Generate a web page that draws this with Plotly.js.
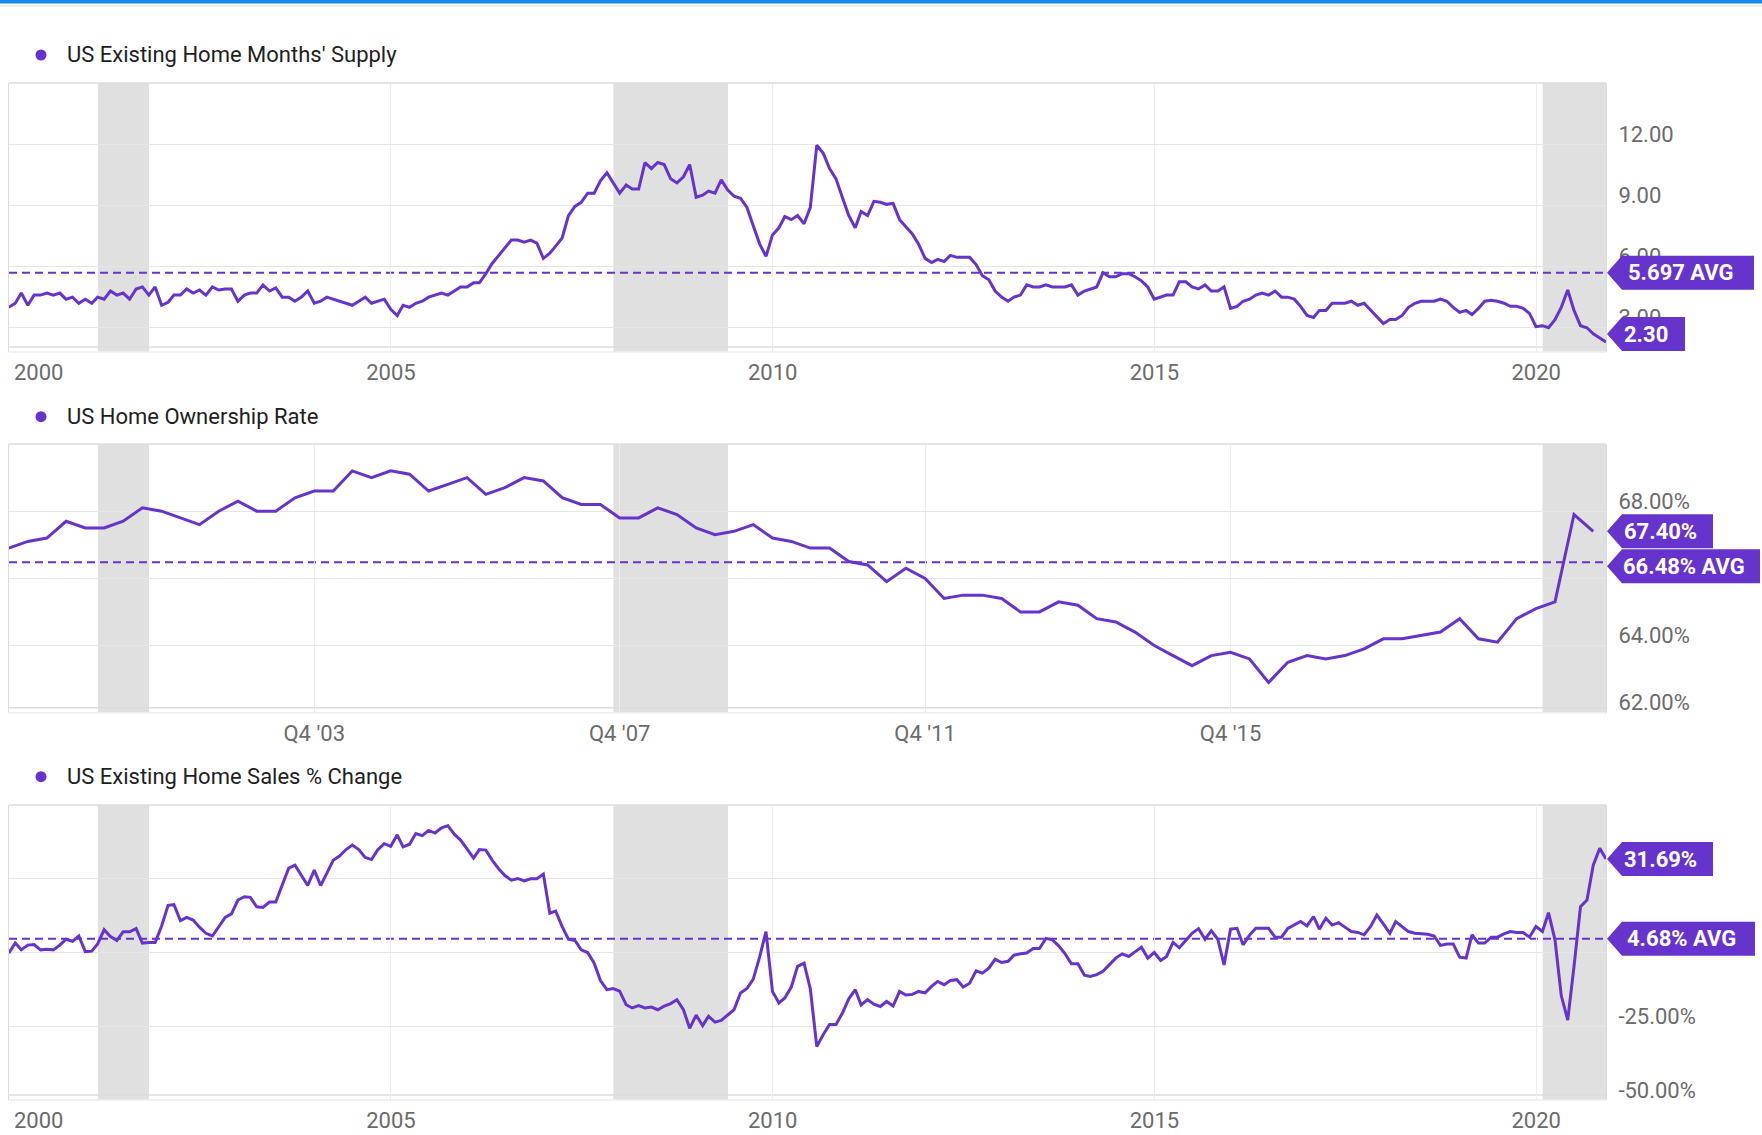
<!DOCTYPE html>
<html>
<head>
<meta charset="utf-8">
<script src="https://cdn.plot.ly/plotly-3.0.1.min.js"></script>
<style>
  html, body { margin: 0; padding: 0; background: #ffffff; }
  #chart { width: 1762px; height: 1135px; }
</style>
</head>
<body>
<div id="chart"></div>
<script>
// ---------------- DATA ----------------
// Monthly series start with the month ending 1999-12-31; quarterly with Q4 1999.
const monthlyStart = [1999, 12];
const quarterlyStart = [1999, 12];

// US Existing Home Months' Supply (monthly, Dec 1999 .. Nov 2020)
const supplyValues = [
  4.0, 4.2, 4.7, 4.1, 4.6, 4.6, 4.7, 4.6, 4.7, 4.4, 4.5, 4.2,
  4.4, 4.2, 4.5, 4.4, 4.8, 4.6, 4.7, 4.4, 4.9, 5.0, 4.6, 5.0,
  4.1, 4.25, 4.6, 4.6, 4.9, 4.7, 4.85, 4.6, 5.0, 4.85, 4.9, 4.9,
  4.3, 4.6, 4.7, 4.7, 5.1, 4.8, 4.95, 4.5, 4.5, 4.3, 4.5, 4.8,
  4.2, 4.3, 4.5, 4.4, 4.3, 4.2, 4.1, 4.3, 4.5, 4.2, 4.3, 4.4,
  3.9, 3.6, 4.1, 4.0, 4.2, 4.3, 4.5, 4.6, 4.7, 4.6, 4.8, 5.0,
  5.0, 5.2, 5.2, 5.65, 6.15, 6.55, 6.95, 7.3, 7.3, 7.2, 7.3, 7.15,
  6.4, 6.65, 7.0, 7.4, 8.5, 8.95, 9.15, 9.6, 9.6, 10.2, 10.6, 10.1,
  9.6, 10.0, 9.8, 9.8, 11.1, 10.8, 11.1, 11.0, 10.3, 10.1, 10.4, 11.0,
  9.4, 9.5, 9.7, 9.6, 10.25, 9.75, 9.45, 9.35, 8.9, 8.0, 7.1, 6.5,
  7.55, 7.9, 8.45, 8.3, 8.5, 8.1, 8.9, 11.95, 11.55, 10.8, 10.3, 9.4,
  8.5, 7.9, 8.7, 8.5, 9.2, 9.15, 9.05, 9.1, 8.3, 7.95, 7.6, 7.1,
  6.4, 6.2, 6.35, 6.25, 6.55, 6.45, 6.45, 6.45, 6.1, 5.55, 5.35, 4.8,
  4.5, 4.3, 4.5, 4.6, 5.1, 5.0, 5.0, 5.1, 5.0, 5.0, 5.0, 5.1,
  4.6, 4.8, 4.9, 5.0, 5.7, 5.5, 5.5, 5.65, 5.65, 5.5, 5.3, 5.0,
  4.4, 4.5, 4.6, 4.6, 5.25, 5.25, 5.0, 4.9, 5.1, 4.8, 4.8, 5.0,
  3.95, 4.05, 4.3, 4.4, 4.6, 4.7, 4.6, 4.8, 4.5, 4.5, 4.4, 4.05,
  3.6, 3.5, 3.85, 3.85, 4.2, 4.2, 4.2, 4.3, 4.1, 4.2, 3.85, 3.5,
  3.2, 3.4, 3.4, 3.6, 4.0, 4.2, 4.3, 4.3, 4.3, 4.4, 4.3, 4.0,
  3.75, 3.85, 3.65, 3.95, 4.3, 4.35, 4.3, 4.2, 4.05, 4.05, 3.95, 3.7,
  3.05, 3.1, 3.0, 3.4, 4.0, 4.85, 3.85, 3.1, 3.0, 2.7, 2.5, 2.3
];

// US Home Ownership Rate (quarterly, Q4 1999 .. Q3 2020)
const ownershipValues = [
  66.9,
  67.1, 67.2, 67.7, 67.5,
  67.5, 67.7, 68.1, 68.0,
  67.8, 67.6, 68.0, 68.3,
  68.0, 68.0, 68.4, 68.6,
  68.6, 69.2, 69.0, 69.2,
  69.1, 68.6, 68.8, 69.0,
  68.5, 68.7, 69.0, 68.9,
  68.4, 68.2, 68.2, 67.8,
  67.8, 68.1, 67.9, 67.5,
  67.3, 67.4, 67.6, 67.2,
  67.1, 66.9, 66.9, 66.5,
  66.4, 65.9, 66.3, 66.0,
  65.4, 65.5, 65.5, 65.4,
  65.0, 65.0, 65.3, 65.2,
  64.8, 64.7, 64.4, 64.0,
  63.7, 63.4, 63.7, 63.8,
  63.6, 62.9, 63.5, 63.7,
  63.6, 63.7, 63.9, 64.2,
  64.2, 64.3, 64.4, 64.8,
  64.2, 64.1, 64.8, 65.1,
  65.3, 67.9, 67.4
];

// US Existing Home Sales % Change (monthly, Dec 1999 .. Nov 2020)
const salesChangeValues = [
  -0.2, 3.2, 0.9, 2.5, 2.7, 0.9, 1.1, 0.9, 2.5, 4.5, 3.8, 5.6,
  0.3, 0.45, 2.9, 7.7, 5.4, 4.1, 7.0, 7.0, 8.1, 3.2, 3.4, 3.4,
  9.0, 16.0, 16.2, 10.8, 11.9, 11.0, 8.6, 6.5, 5.6, 8.8, 11.9, 13.1,
  17.8, 18.9, 18.7, 15.5, 15.3, 17.1, 17.1, 22.9, 28.6, 29.6, 26.1, 22.7,
  27.9, 22.7, 26.8, 31.3, 32.7, 34.9, 36.4, 34.9, 32.2, 31.5, 34.9, 36.9,
  36.0, 39.9, 35.8, 36.7, 40.3, 39.6, 41.4, 40.5, 42.3, 43.0, 40.1, 38.1,
  35.1, 32.0, 34.9, 34.7, 31.3, 28.4, 26.1, 24.5, 25.1, 24.3, 25.0, 25.0,
  26.6, 13.3, 14.0, 8.8, 4.5, 4.1, 0.9, 0.0, -3.6, -9.5, -12.6, -12.2,
  -13.1, -17.7, -18.8, -18.0, -18.8, -18.5, -19.4, -18.2, -17.3, -16.0, -19.4, -25.7,
  -21.2, -24.8, -21.6, -23.6, -23.0, -21.2, -19.4, -13.7, -12.2, -9.0, -1.4, 7.1,
  -13.2, -17.1, -15.4, -11.7, -4.7, -3.6, -12.3, -31.9, -27.8, -24.4, -24.4, -20.6,
  -15.7, -12.6, -17.8, -16.0, -17.5, -18.3, -16.6, -18.1, -13.2, -14.4, -14.2, -13.2,
  -13.7, -11.5, -9.8, -10.9, -9.5, -9.2, -11.7, -10.4, -6.2, -7.0, -5.3, -2.3,
  -3.4, -3.0, -0.9, -0.45, -0.2, 1.35, 1.35, 4.8, 4.3, 2.25, -0.45, -3.8,
  -3.8, -7.7, -8.1, -7.5, -6.4, -4.1, -1.9, -0.45, -1.35, 0.2, 1.8, -1.9,
  0.0, -2.7, -1.35, 3.4, 1.6, 4.05, 6.5, 8.1, 4.5, 7.4, 4.5, -4.2,
  7.9, 8.2, 2.6, 5.9, 8.2, 8.2, 8.2, 5.2, 5.2, 8.2, 9.3, 10.5,
  9.0, 12.2, 7.9, 11.6, 9.3, 10.1, 8.6, 7.1, 6.8, 6.0, 8.8, 12.7,
  9.7, 6.5, 10.5, 8.6, 7.1, 6.5, 6.3, 6.2, 5.6, 2.4, 2.9, 2.9,
  -1.6, -1.9, 6.0, 3.2, 3.2, 5.2, 5.2, 6.3, 7.1, 6.8, 6.8, 5.2,
  8.8, 7.1, 13.5, 4.3, -14.6, -22.9, -4.7, 15.5, 17.8, 29.6, 35.3, 31.69
];

const supplyAvg = 5.697;
const ownershipAvg = 66.48;
const salesAvg = 4.68;

const seriesTitles = ["US Existing Home Months' Supply", "US Home Ownership Rate", "US Existing Home Sales % Change"];

const recessionStarts = ["2001-03-01", "2007-12-01", "2020-02-01"];
const recessionEnds   = ["2001-11-01", "2009-06-01", "2020-11-30"];

const xRange = ["2000-01-01", "2020-11-30"];
const yearTickVals = ["2005-01-01", "2010-01-01", "2015-01-01", "2020-01-01"];
const yearTickText = ["2005", "2010", "2015", "2020"];
const firstYearLabel = "2000";
const quarterTickVals = ["2003-12-31", "2007-12-31", "2011-12-31", "2015-12-31"];
const quarterTickText = ["Q4 '03", "Q4 '07", "Q4 '11", "Q4 '15"];

// gridline values; labels that sit fully under a value tag are left blank (as in the source)
const supplyTicks = [3, 6, 9, 12];
const ownershipTicks = [62, 64, 66, 68];
const ownershipHiddenLabels = [66];
const salesTicks = [-50, -25, 0, 25];
const salesHiddenLabels = [0, 25];

const supplyRange = [1.81, 15];
const ownershipRange = [62, 70];
const salesRange = [-50, 50];

// ---------------- LAYOUT HELPERS ----------------
const W = 1762, H = 1135, ML = 9, MR = 156, MT = 83, MB = 35;
const PW = W - ML - MR, PH = H - MT - MB;
const panelPx = [[83, 352], [444, 712.7], [805, 1100]];
const dom = p => [(H - MB - p[1]) / PH, (H - MB - p[0]) / PH];
const xp = px => (px - ML) / PW;
const yp = py => (H - MB - py) / PH;

const PURPLE = "#6633cc";
const FONT = "Roboto, 'Open Sans', sans-serif";
const tickFont = { family: FONT, size: 22, color: "#6b6b6b" };

function periodEnds(start, n, step) {
  const out = [];
  for (let i = 0; i < n; i++) {
    const d = new Date(Date.UTC(start[0], start[1] + i * step, 0));
    out.push(d.toISOString().slice(0, 10));
  }
  return out;
}
const supplyDates = periodEnds(monthlyStart, supplyValues.length, 1);
const salesDates = periodEnds(monthlyStart, salesChangeValues.length, 1);
const ownershipDates = periodEnds(quarterlyStart, ownershipValues.length, 3);

// ---------------- TRACES ----------------
const lineStyle = { color: PURPLE, width: 3 };
const traces = [
  { x: supplyDates, y: supplyValues, xaxis: "x", yaxis: "y", type: "scatter", mode: "lines", line: lineStyle, hoverinfo: "skip", showlegend: false },
  { x: ownershipDates, y: ownershipValues, xaxis: "x2", yaxis: "y2", type: "scatter", mode: "lines", line: lineStyle, hoverinfo: "skip", showlegend: false },
  { x: salesDates, y: salesChangeValues, xaxis: "x3", yaxis: "y3", type: "scatter", mode: "lines", line: lineStyle, hoverinfo: "skip", showlegend: false }
];

// ---------------- AXES ----------------
function xAxis(anchor, vals, text) {
  return {
    anchor: anchor, domain: [0, 1], type: "date", range: xRange,
    tickmode: "array", tickvals: vals, ticktext: text,
    showgrid: true, gridcolor: "#ececec", gridwidth: 1,
    showline: false, zeroline: false, ticks: "",
    tickfont: tickFont, ticklabelstandoff: 5, fixedrange: true
  };
}
function yAxis(anchor, panel, range, vals, fmt, hidden) {
  return {
    anchor: anchor, domain: dom(panel), side: "right", range: range,
    tickmode: "array", tickvals: vals,
    ticktext: vals.map(v => (hidden || []).includes(v) ? "" : fmt(v)),
    showgrid: true, gridcolor: "#e6e6e6", gridwidth: 1,
    showline: true, mirror: true, linecolor: "#dcdcdc", linewidth: 1,
    zeroline: false, ticks: "", tickfont: tickFont,
    ticklabelstandoff: 7, ticklabelshift: -10, fixedrange: true
  };
}

const axisIds = [["x", "y"], ["x2", "y2"], ["x3", "y3"]];
const ranges = [supplyRange, ownershipRange, salesRange];
const panelH = panelPx.map(p => p[1] - p[0]);

// ---------------- SHAPES ----------------
const shapes = [];
// top blue bar and hairline
shapes.push({ type: "rect", xref: "paper", yref: "paper", x0: xp(0), x1: xp(W), y0: yp(3.5), y1: yp(0), fillcolor: "#1689e8", line: { width: 0 }, layer: "above" });
shapes.push({ type: "line", xref: "paper", yref: "paper", x0: xp(0), x1: xp(W), y0: yp(6), y1: yp(6), line: { color: "#dddddd", width: 1 }, layer: "above" });

const avgs = [supplyAvg, ownershipAvg, salesAvg];
axisIds.forEach(([xa, ya], i) => {
  for (let r = 0; r < recessionStarts.length; r++) {
    shapes.push({ type: "rect", xref: xa, yref: ya + " domain", x0: recessionStarts[r], x1: recessionEnds[r], y0: 0, y1: 1,
      fillcolor: "#e0e0e0", line: { width: 0 }, layer: "below" });
  }
  // frame lines
  shapes.push({ type: "line", xref: xa + " domain", yref: ya + " domain", x0: 0, x1: 1, y0: 1, y1: 1, line: { color: "#dcdcdc", width: 1.5 }, layer: "below" });
  shapes.push({ type: "line", xref: xa + " domain", yref: ya + " domain", x0: 0, x1: 1, y0: 5 / panelH[i], y1: 5 / panelH[i], line: { color: "#dcdcdc", width: 1.5 }, layer: "below" });
  shapes.push({ type: "line", xref: xa + " domain", yref: ya + " domain", x0: 0, x1: 1, y0: 0, y1: 0, line: { color: "#eeeeee", width: 1.5 }, layer: "below" });
  // average line
  shapes.push({ type: "line", xref: xa + " domain", yref: ya, x0: 0, x1: 1, y0: avgs[i], y1: avgs[i],
    line: { color: PURPLE, width: 2, dash: "8px,5px" }, layer: "below" });
});

// value tags
const frac = (v, r) => (v - r[0]) / (r[1] - r[0]);
const tags = [
  { p: 0, v: supplyAvg, text: supplyAvg.toFixed(3) + " AVG", w: 148, off: 0 },
  { p: 0, v: supplyValues[supplyValues.length - 1], text: supplyValues[supplyValues.length - 1].toFixed(2), w: 79, off: 8 },
  { p: 1, v: ownershipValues[ownershipValues.length - 1], text: ownershipValues[ownershipValues.length - 1].toFixed(2) + "%", w: 107, off: 0 },
  { p: 1, v: ownershipAvg, text: ownershipAvg.toFixed(2) + "% AVG", w: 154, off: -4 },
  { p: 2, v: salesChangeValues[salesChangeValues.length - 1], text: salesChangeValues[salesChangeValues.length - 1].toFixed(2) + "%", w: 107, off: 0 },
  { p: 2, v: salesAvg, text: salesAvg.toFixed(2) + "% AVG", w: 149, off: 0 }
];
const annotations = [];
tags.forEach(t => {
  const [xa, ya] = axisIds[t.p];
  const h = 17, o = t.off;
  shapes.push({
    type: "path", xref: xa + " domain", yref: ya + " domain",
    xsizemode: "pixel", ysizemode: "pixel", xanchor: 1, yanchor: frac(t.v, ranges[t.p]),
    path: `M 1 ${o} L 16 ${o + h} L ${t.w} ${o + h} L ${t.w} ${o - h} L 16 ${o - h} Z`,
    fillcolor: PURPLE, line: { width: 0 }, layer: "above"
  });
  annotations.push({
    xref: xa + " domain", yref: ya + " domain", x: 1, y: frac(t.v, ranges[t.p]),
    xanchor: "center", yanchor: "middle", xshift: (t.w + 1) / 2, yshift: o,
    text: t.text, showarrow: false,
    font: { family: FONT, size: 22, color: "#ffffff", weight: "bold" }
  });
});

// series headers
const headerY = [55, 416.7, 776.7];
seriesTitles.forEach((t, i) => {
  shapes.push({ type: "circle", xref: "paper", yref: "paper", xsizemode: "pixel", ysizemode: "pixel",
    xanchor: xp(41), yanchor: yp(headerY[i]), x0: -5.5, x1: 5.5, y0: -5.5, y1: 5.5,
    fillcolor: PURPLE, line: { width: 0 }, layer: "above" });
  annotations.push({ xref: "paper", yref: "paper", x: xp(65), y: yp(headerY[i]), xanchor: "left", yanchor: "middle",
    text: t, showarrow: false, font: { family: FONT, size: 22, color: "#1e1e1e" } });
});

// first year label (left-aligned so it is not cut at the edge)
[["x", "y"], ["x3", "y3"]].forEach(([xa, ya]) => {
  annotations.push({ xref: xa, yref: ya + " domain", x: xRange[0], y: 0, xanchor: "left", yanchor: "middle",
    xshift: 3, yshift: -20, text: firstYearLabel, showarrow: false, font: tickFont });
});

const layout = {
  width: W, height: H,
  margin: { l: ML, r: MR, t: MT, b: MB, pad: 0 },
  paper_bgcolor: "#ffffff", plot_bgcolor: "#ffffff",
  showlegend: false,
  font: { family: FONT },
  xaxis: xAxis("y", yearTickVals, yearTickText),
  xaxis2: xAxis("y2", quarterTickVals, quarterTickText),
  xaxis3: xAxis("y3", yearTickVals, yearTickText),
  yaxis: yAxis("x", panelPx[0], supplyRange, supplyTicks, v => v.toFixed(2)),
  yaxis2: yAxis("x2", panelPx[1], ownershipRange, ownershipTicks, v => v.toFixed(2) + "%", ownershipHiddenLabels),
  yaxis3: yAxis("x3", panelPx[2], salesRange, salesTicks, v => v.toFixed(2) + "%", salesHiddenLabels),
  shapes: shapes,
  annotations: annotations
};

Plotly.newPlot("chart", traces, layout, { staticPlot: true, displayModeBar: false });
</script>
</body>
</html>
